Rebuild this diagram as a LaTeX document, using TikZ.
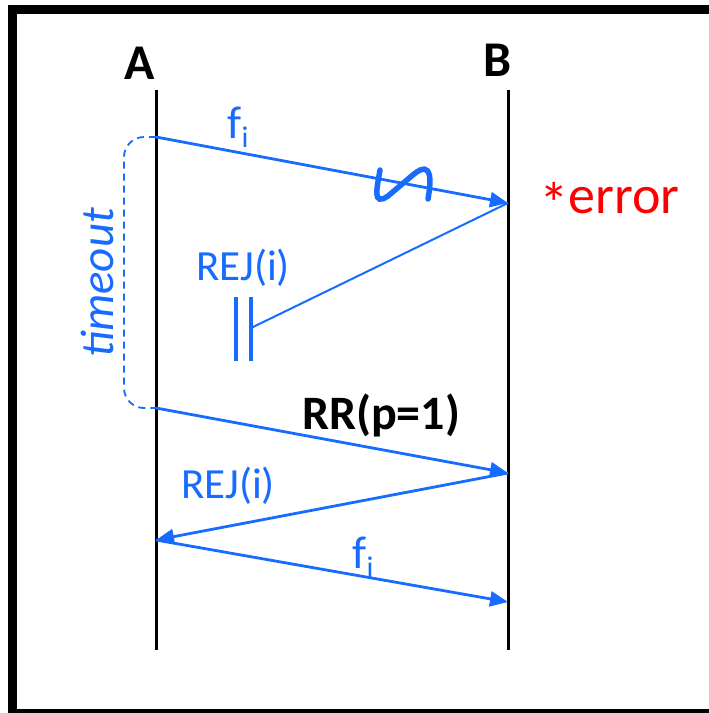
\documentclass[tikz,border=0pt]{standalone}
\usepackage{fontspec}
\setmainfont{Carlito}
\usetikzlibrary{arrows.meta}
\definecolor{msgblue}{RGB}{23,108,255}
\definecolor{errred}{RGB}{255,0,0}
\tikzset{
  lifeline/.style={line width=3pt,black},
  msg/.style={line width=2.8pt,msgblue,-{Triangle[length=18pt,width=15pt]}},
  rejline/.style={line width=2pt,msgblue},
  bar/.style={line width=3.2pt,msgblue},
  lbl/.style={text=msgblue,inner sep=0pt,font=\fontsize{43}{43}\selectfont},
  party/.style={inner sep=0pt,font=\fontsize{50}{50}\selectfont\bfseries}
}
\newcommand{\fsub}{f\raisebox{-9pt}{\fontsize{30}{30}\selectfont i}}
\begin{document}
\begin{tikzpicture}[x=1pt,y=-1pt]
\useasboundingbox (0,0) rectangle (709,713);
\clip (0,0) rectangle (709,713);
\draw[line width=9pt] (12,9.5) rectangle (730,713);
% lifelines
\coordinate (At) at (156,90); \coordinate (Ab) at (156,650);
\coordinate (Bt) at (508,90); \coordinate (Bb) at (508,650);
\draw[lifeline] (At) -- (Ab);
\draw[lifeline] (Bt) -- (Bb);
\node[party] (A) at (140,63) {A};
\node[party] (B) at (498,60) {B};
% event points
\coordinate (a1) at (156,137);
\coordinate (b1) at (508,203);
\coordinate (c1) at (251,328);
\coordinate (a2) at (156,408);
\coordinate (b2) at (508,473);
\coordinate (a3) at (156,540);
\coordinate (b3) at (508,602);
% frame i
\draw[msg] (a1) -- (b1);
\node[lbl,font=\fontsize{46}{46}\selectfont] (fi1) at (238,127) {\fsub};
\draw[msgblue,line width=5.5pt,line cap=round]
  (380,170) .. controls (377,188) and (372,207) .. (388,196)
  -- (414,174) .. controls (433,159) and (431,182) .. (428,199);
\node[text=errred,inner sep=0pt,anchor=base west,font=\fontsize{54}{54}\selectfont] (err) at (539,213) {\raisebox{-11pt}{\scalebox{1.1}{*}}error};
% lost REJ
\draw[rejline] (b1) -- (c1);
\draw[bar] (236,297) -- (236,361);
\draw[bar] (c1 |- 0,297) -- (c1 |- 0,361);
\node[lbl] (rej1) at (243,268) {REJ(i)};
% timeout
\draw[msgblue,line width=1.8pt,dash pattern=on 7pt off 5pt,rounded corners=20pt]
  (a1) -- (124,137) -- (124,408) -- (a2);
\node[lbl,rotate=90,font=\fontsize{47}{47}\selectfont\itshape] (to) at (97,283) {timeout};
% RR
\draw[msg] (a2) -- (b2);
\node[inner sep=0pt,font=\fontsize{48}{48}\selectfont\bfseries] (rr) at (381,415) {RR(p=1)};
% REJ
\draw[msg] (b2) -- (a3);
\node[lbl] (rej2) at (228,486) {REJ(i)};
% frame i again
\draw[msg] (a3) -- (b3);
\node[lbl,font=\fontsize{46}{46}\selectfont] (fi2) at (363,557) {\fsub};
\end{tikzpicture}
\end{document}
